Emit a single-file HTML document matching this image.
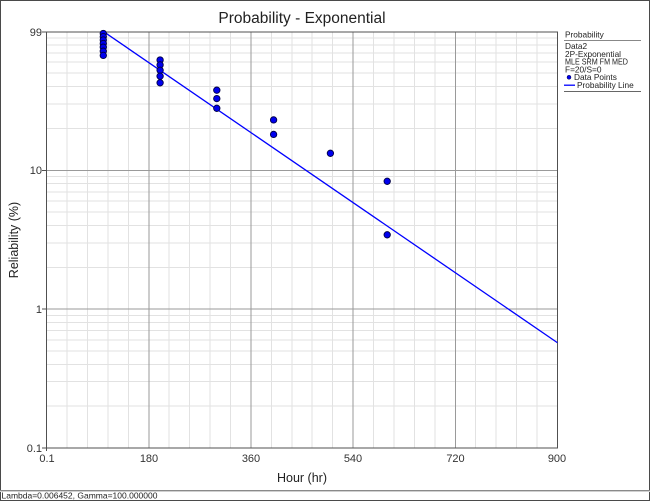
<!DOCTYPE html>
<html>
<head>
<meta charset="utf-8">
<style>
  html, body { margin:0; padding:0; background:#fff; }
  svg { display:block; font-family:"Liberation Sans", Arial, sans-serif; }
</style>
</head>
<body>
<svg width="650" height="501" viewBox="0 0 650 501" xmlns="http://www.w3.org/2000/svg">
  <rect x="0" y="0" width="650" height="501" fill="#fff"/>
  <!-- outer frame -->
  <rect x="0.5" y="0.5" width="649" height="500" fill="none" stroke="#4a4a4a" stroke-width="1"/>

  <!-- title -->
  <text x="302" y="23" font-size="15.5" text-anchor="middle" fill="#222">Probability - Exponential</text>

  <!-- minor vertical grid -->
  <g stroke="#e2e2e2" stroke-width="1" shape-rendering="crispEdges">
    <line x1="67" y1="32" x2="67" y2="448"/>
    <line x1="87.5" y1="32" x2="87.5" y2="448"/>
    <line x1="108" y1="32" x2="108" y2="448"/>
    <line x1="128.5" y1="32" x2="128.5" y2="448"/>
    <line x1="169" y1="32" x2="169" y2="448"/>
    <line x1="189.5" y1="32" x2="189.5" y2="448"/>
    <line x1="210" y1="32" x2="210" y2="448"/>
    <line x1="230.5" y1="32" x2="230.5" y2="448"/>
    <line x1="271.5" y1="32" x2="271.5" y2="448"/>
    <line x1="292" y1="32" x2="292" y2="448"/>
    <line x1="312" y1="32" x2="312" y2="448"/>
    <line x1="332.5" y1="32" x2="332.5" y2="448"/>
    <line x1="373.5" y1="32" x2="373.5" y2="448"/>
    <line x1="394" y1="32" x2="394" y2="448"/>
    <line x1="414.5" y1="32" x2="414.5" y2="448"/>
    <line x1="435" y1="32" x2="435" y2="448"/>
    <line x1="475.5" y1="32" x2="475.5" y2="448"/>
    <line x1="496" y1="32" x2="496" y2="448"/>
    <line x1="516.5" y1="32" x2="516.5" y2="448"/>
    <line x1="537" y1="32" x2="537" y2="448"/>
  </g>
  <!-- minor horizontal grid -->
  <g stroke="#e2e2e2" stroke-width="1" shape-rendering="crispEdges">
    <line x1="46" y1="37.75" x2="557" y2="37.75"/>
    <line x1="46" y1="44.85" x2="557" y2="44.85"/>
    <line x1="46" y1="52.9" x2="557" y2="52.9"/>
    <line x1="46" y1="62.2" x2="557" y2="62.2"/>
    <line x1="46" y1="73.2" x2="557" y2="73.2"/>
    <line x1="46" y1="86.65" x2="557" y2="86.65"/>
    <line x1="46" y1="104" x2="557" y2="104"/>
    <line x1="46" y1="128.5" x2="557" y2="128.5"/>

    <line x1="46" y1="176.6" x2="557" y2="176.6"/>
    <line x1="46" y1="183.7" x2="557" y2="183.7"/>
    <line x1="46" y1="191.8" x2="557" y2="191.8"/>
    <line x1="46" y1="201.1" x2="557" y2="201.1"/>
    <line x1="46" y1="212.1" x2="557" y2="212.1"/>
    <line x1="46" y1="225.5" x2="557" y2="225.5"/>
    <line x1="46" y1="242.9" x2="557" y2="242.9"/>
    <line x1="46" y1="267.3" x2="557" y2="267.3"/>

    <line x1="46" y1="315.5" x2="557" y2="315.5"/>
    <line x1="46" y1="322.6" x2="557" y2="322.6"/>
    <line x1="46" y1="330.6" x2="557" y2="330.6"/>
    <line x1="46" y1="339.9" x2="557" y2="339.9"/>
    <line x1="46" y1="350.9" x2="557" y2="350.9"/>
    <line x1="46" y1="364.4" x2="557" y2="364.4"/>
    <line x1="46" y1="381.7" x2="557" y2="381.7"/>
    <line x1="46" y1="406.2" x2="557" y2="406.2"/>
  </g>
  <!-- major grid -->
  <g stroke="#9a9a9a" stroke-width="1" shape-rendering="crispEdges">
    <line x1="149" y1="32" x2="149" y2="448"/>
    <line x1="251" y1="32" x2="251" y2="448"/>
    <line x1="353" y1="32" x2="353" y2="448"/>
    <line x1="455.5" y1="32" x2="455.5" y2="448"/>
    <line x1="46" y1="170.3" x2="557" y2="170.3"/>
    <line x1="46" y1="309.1" x2="557" y2="309.1"/>
  </g>
  <!-- plot frame -->
  <rect x="46.5" y="32" width="511" height="416" fill="none" stroke="#505050" stroke-width="1" shape-rendering="crispEdges"/>
  <!-- ticks -->
  <g stroke="#505050" stroke-width="1" shape-rendering="crispEdges">
    <line x1="42" y1="32" x2="46" y2="32"/>
    <line x1="42" y1="170.3" x2="46" y2="170.3"/>
    <line x1="42" y1="309.1" x2="46" y2="309.1"/>
    <line x1="42" y1="448" x2="46" y2="448"/>
    <line x1="46.5" y1="448" x2="46.5" y2="451"/>
  </g>

  <!-- y tick labels -->
  <g font-size="11" fill="#333" text-anchor="end">
    <text x="42" y="36">99</text>
    <text x="42" y="174">10</text>
    <text x="42" y="313">1</text>
    <text x="42" y="452">0.1</text>
  </g>
  <!-- x tick labels -->
  <g font-size="11" fill="#333" text-anchor="middle">
    <text x="47" y="462">0.1</text>
    <text x="149" y="462">180</text>
    <text x="251" y="462">360</text>
    <text x="353" y="462">540</text>
    <text x="455.5" y="462">720</text>
    <text x="557" y="462">900</text>
  </g>
  <!-- axis titles -->
  <text x="302" y="482" font-size="12.5" text-anchor="middle" fill="#222">Hour (hr)</text>
  <text transform="translate(18,240) rotate(-90)" font-size="12.5" text-anchor="middle" fill="#222">Reliability (%)</text>

  <!-- probability line -->
  <svg x="46.5" y="32" width="511" height="416" overflow="hidden">
    <line x1="56.78" y1="-0.6" x2="511" y2="310.73" stroke="#0000ff" stroke-width="1.3"/>
  </svg>

  <!-- data points -->
  <g fill="#0000ee" stroke="#000044" stroke-width="0.9">
    <circle cx="103.3" cy="33.5" r="3.2"/>
    <circle cx="103.3" cy="36.6" r="3.2"/>
    <circle cx="103.3" cy="40" r="3.2"/>
    <circle cx="103.3" cy="43.5" r="3.2"/>
    <circle cx="103.3" cy="47.2" r="3.2"/>
    <circle cx="103.3" cy="51.2" r="3.2"/>
    <circle cx="103.3" cy="55.4" r="3.2"/>
    <circle cx="160.1" cy="60" r="3.2"/>
    <circle cx="160.1" cy="64.9" r="3.2"/>
    <circle cx="160.1" cy="70.3" r="3.2"/>
    <circle cx="160.1" cy="76.2" r="3.2"/>
    <circle cx="160.1" cy="82.8" r="3.2"/>
    <circle cx="216.8" cy="90.2" r="3.2"/>
    <circle cx="216.8" cy="98.6" r="3.2"/>
    <circle cx="216.8" cy="108.3" r="3.2"/>
    <circle cx="273.6" cy="119.9" r="3.2"/>
    <circle cx="273.6" cy="134.4" r="3.2"/>
    <circle cx="330.4" cy="153.3" r="3.2"/>
    <circle cx="387.2" cy="181.3" r="3.2"/>
    <circle cx="387.2" cy="234.8" r="3.2"/>
  </g>

  <!-- legend -->
  <g font-size="8.3" fill="#222">
    <text x="565" y="37.5">Probability</text>
    <line x1="564" y1="40.5" x2="641" y2="40.5" stroke="#888" stroke-width="1" shape-rendering="crispEdges"/>
    <text x="565" y="49">Data2</text>
    <text x="565" y="56.8" textLength="56" lengthAdjust="spacingAndGlyphs">2P-Exponential</text>
    <text x="565" y="64.6" textLength="63" lengthAdjust="spacingAndGlyphs">MLE SRM FM MED</text>
    <text x="565" y="72.4">F=20/S=0</text>
    <circle cx="569" cy="77.3" r="2" fill="#0000ee" stroke="#000044" stroke-width="0.5"/>
    <text x="574" y="80.2">Data Points</text>
    <line x1="564" y1="85.2" x2="575" y2="85.2" stroke="#0000ff" stroke-width="1.3"/>
    <text x="577" y="88">Probability Line</text>
    <line x1="564" y1="91.5" x2="641" y2="91.5" stroke="#666" stroke-width="1" shape-rendering="crispEdges"/>
  </g>

  <!-- status bar -->
  <line x1="0" y1="490.5" x2="650" y2="490.5" stroke="#8a8a8a" stroke-width="1"/>
  <line x1="0" y1="491.5" x2="650" y2="491.5" stroke="#d0d0d0" stroke-width="1"/>
  <text x="1.5" y="498.5" font-size="8.5" fill="#222">Lambda=0.006452, Gamma=100.000000</text>
</svg>
</body>
</html>
